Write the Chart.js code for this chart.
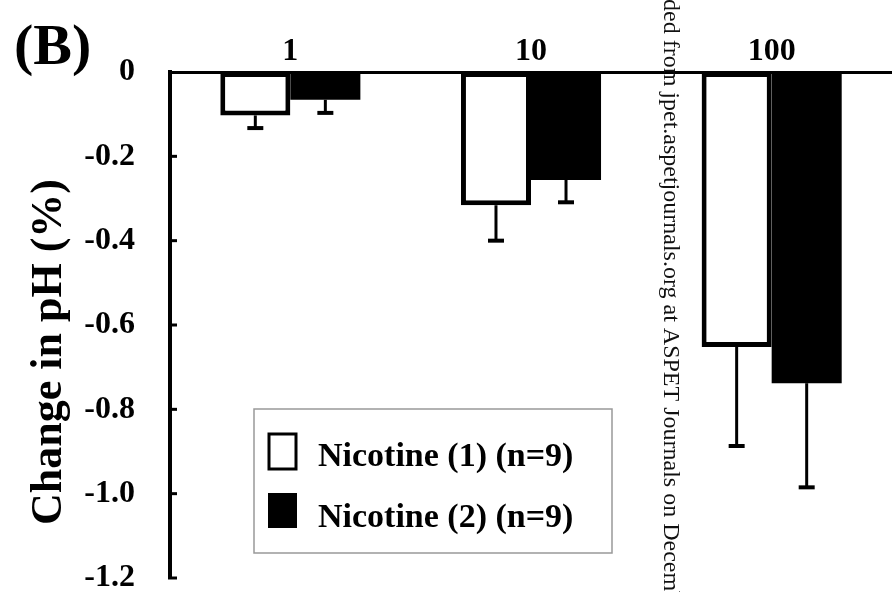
<!DOCTYPE html>
<html>
<head>
<meta charset="utf-8">
<script src="https://cdn.jsdelivr.net/npm/chart.js@4.4.1/dist/chart.umd.min.js"></script>
<style>
  body { margin: 0; background: #fff; }
  #wrap { width: 892px; height: 592px; position: relative; }
</style>
</head>
<body>
<div id="wrap"><canvas id="phChart"></canvas></div>
<script>
// Nicotine concentrations (top category labels)
const categories = ['1', '10', '100'];
// Mean change in pH (%) and one-sided error (SEM) for each series
const nic1Means = [-0.103, -0.316, -0.652];
const nic1Errs = [0.030, 0.084, 0.235];
const nic2Means = [-0.066, -0.256, -0.738];
const nic2Errs = [0.031, 0.053, 0.247];
const legendLabels = ['Nicotine (1) (n=9)', 'Nicotine (2) (n=9)'];
const panelLabel = '(B)';
const yTitle = 'Change in pH (%)';
const watermark = 'Downloaded from jpet.aspetjournals.org at ASPET Journals on December 5, 2024';

const serif = '"Liberation Serif", "Times New Roman", serif';
const errs = [nic1Errs, nic2Errs];

// Draws downward error bars, inner y ticks, labels, legend and watermark.
const extrasPlugin = {
    id: 'extras',
    afterDatasetsDraw(chart) {
        const ctx = chart.ctx;
        const y = chart.scales.y;
        ctx.save();
        ctx.strokeStyle = '#000';
        chart.data.datasets.forEach((ds, i) => {
            const meta = chart.getDatasetMeta(i);
            meta.data.forEach((bar, j) => {
                const top = y.getPixelForValue(ds.data[j]);
                const end = y.getPixelForValue(ds.data[j] - errs[i][j]);
                ctx.lineWidth = 3;
                ctx.beginPath();
                ctx.moveTo(bar.x, top);
                ctx.lineTo(bar.x, end);
                ctx.stroke();
                ctx.lineWidth = 4;
                ctx.beginPath();
                ctx.moveTo(bar.x - 8, end);
                ctx.lineTo(bar.x + 8, end);
                ctx.stroke();
            });
        });
        ctx.restore();
    },
    afterDraw(chart) {
        const ctx = chart.ctx;
        const y = chart.scales.y;
        ctx.save();
        // Inward tick marks on the y axis
        ctx.strokeStyle = '#000';
        ctx.lineWidth = 3;
        y.ticks.forEach(t => {
            if (t.value === 0) return;
            const py = y.getPixelForValue(t.value);
            ctx.beginPath();
            ctx.moveTo(y.right - 2, py);
            ctx.lineTo(y.right + 7, py);
            ctx.stroke();
        });
        ctx.fillStyle = '#000';
        // Panel label
        ctx.font = 'bold 58px ' + serif;
        ctx.textBaseline = 'alphabetic';
        ctx.textAlign = 'left';
        ctx.fillText(panelLabel, 14, 64);
        // Y axis title
        ctx.save();
        ctx.translate(50, 352);
        ctx.rotate(-Math.PI / 2);
        ctx.font = 'bold 44px ' + serif;
        ctx.textAlign = 'center';
        ctx.textBaseline = 'middle';
        ctx.fillText(yTitle, 0, 0);
        ctx.restore();
        // Legend box
        ctx.strokeStyle = '#999';
        ctx.lineWidth = 1.5;
        ctx.strokeRect(254, 409, 358, 144);
        ctx.strokeStyle = '#000';
        ctx.lineWidth = 3;
        ctx.fillStyle = '#fff';
        ctx.fillRect(269, 434, 27, 35);
        ctx.strokeRect(269, 434, 27, 35);
        ctx.fillStyle = '#000';
        ctx.fillRect(268, 493, 29, 35);
        ctx.font = 'bold 34px ' + serif;
        ctx.fillText(legendLabels[0], 318, 466);
        ctx.fillText(legendLabels[1], 318, 527);
        // Vertical watermark
        ctx.font = '24px ' + serif;
        const skip = ctx.measureText('Downloa').width;
        ctx.translate(664, -skip - 1);
        ctx.rotate(Math.PI / 2);
        ctx.fillStyle = '#111';
        ctx.fillText(watermark, 0, 0);
        ctx.restore();
    }
};

const ctx = document.getElementById('phChart').getContext('2d');
new Chart(ctx, {
    type: 'bar',
    data: {
        labels: categories,
        datasets: [{
            label: legendLabels[0],
            data: nic1Means,
            backgroundColor: '#fff',
            borderColor: '#000',
            borderWidth: 5,
            borderSkipped: false
        }, {
            label: legendLabels[1],
            data: nic2Means,
            backgroundColor: '#000',
            borderColor: '#000',
            borderWidth: 0
        }]
    },
    options: {
        responsive: true,
        maintainAspectRatio: false,
        animation: false,
        layout: {padding: {top: 0, left: 0, right: 0, bottom: 14}},
        plugins: {legend: {display: false}, tooltip: {enabled: false}},
        datasets: {bar: {barPercentage: 1, categoryPercentage: 0.582}},
        scales: {
            x: {
                position: 'top',
                grid: {display: false},
                border: {display: true, color: '#000', width: 3},
                ticks: {color: '#000', padding: -7, font: {family: serif, size: 32, weight: 'bold'}},
                afterFit: s => { s.height = 72; s.paddingLeft = 0; s.paddingRight = 0; }
            },
            y: {
                min: -1.2,
                max: 0,
                grid: {display: false},
                border: {display: true, color: '#000', width: 4},
                ticks: {
                    stepSize: 0.2,
                    color: '#000',
                    padding: 27,
                    font: {family: serif, size: 32, weight: 'bold'},
                    callback: v => Math.abs(v) < 1e-9 ? '0' : v.toFixed(1)
                },
                afterFit: s => { s.width = 170; s.paddingTop = 0; s.paddingBottom = 0; }
            }
        }
    },
    plugins: [extrasPlugin]
});
</script>
</body>
</html>
